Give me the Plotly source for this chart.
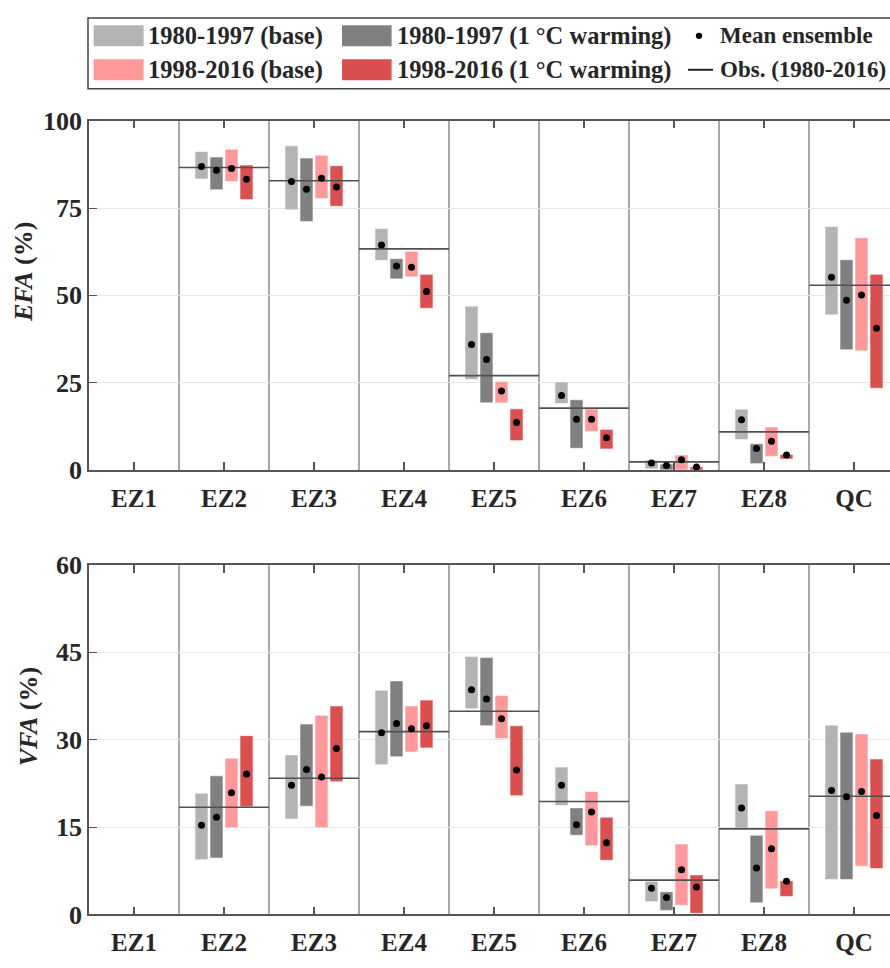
import plotly.graph_objects as go

# ---------------------------------------------------------------- data
zones = ["EZ1", "EZ2", "EZ3", "EZ4", "EZ5", "EZ6", "EZ7", "EZ8", "QC"]

series_names = ["1980-1997 (base)", "1980-1997 (1 °C warming)",
                "1998-2016 (base)", "1998-2016 (1 °C warming)"]
series_colors = ["#b3b3b3", "#808080", "#ff9999", "#dc4f4f"]

efa_ticks = [0, 25, 50, 75, 100]
vfa_ticks = [0, 15, 30, 45, 60]

# EFA (%) : ensemble range (low / high) and ensemble mean per zone
efa_p1_base_lo = [None, 83.3, 74.5, 60.0, 25.9, 19.0, 0.3, 8.7, 44.4]
efa_p1_base_hi = [None, 91.2, 92.8, 69.1, 46.9, 25.2, 2.8, 17.4, 69.7]
efa_p1_base_mean = [None, 86.9, 82.6, 64.4, 35.9, 21.3, 2.0, 14.4, 55.2]

efa_p1_warm_lo = [None, 80.2, 71.1, 54.7, 19.2, 6.2, 0.0, 1.8, 34.4]
efa_p1_warm_hi = [None, 89.6, 89.3, 60.5, 39.3, 20.1, 1.7, 7.5, 60.2]
efa_p1_warm_mean = [None, 85.8, 80.4, 58.4, 31.6, 14.5, 1.3, 6.1, 48.6]

efa_p2_base_lo = [None, 82.6, 77.7, 55.3, 19.2, 11.0, 0.0, 3.9, 34.1]
efa_p2_base_hi = [None, 91.8, 90.1, 62.6, 25.3, 17.5, 4.3, 12.3, 66.5]
efa_p2_base_mean = [None, 86.3, 83.5, 58.0, 22.6, 14.5, 2.9, 8.2, 50.1]

efa_p2_warm_lo = [None, 77.4, 75.5, 46.3, 8.4, 6.0, 0.0, 3.1, 23.4]
efa_p2_warm_hi = [None, 87.3, 87.1, 56.0, 17.5, 11.6, 0.9, 4.4, 56.0]
efa_p2_warm_mean = [None, 83.2, 81.0, 51.1, 13.6, 9.2, 0.8, 4.3, 40.6]

efa_obs = [None, 86.6, 82.8, 63.3, 27.0, 17.7, 2.3, 10.9, 52.9]

# VFA (%)
vfa_p1_base_lo = [None, 9.4, 16.4, 25.7, 35.3, 18.7, 2.2, 14.8, 6.0]
vfa_p1_base_hi = [None, 20.8, 27.4, 38.5, 44.3, 25.3, 5.7, 22.4, 32.5]
vfa_p1_base_mean = [None, 15.3, 22.2, 31.2, 38.6, 22.2, 4.5, 18.3, 21.3]

vfa_p1_warm_lo = [None, 9.7, 18.6, 27.1, 32.4, 13.6, 0.7, 2.0, 6.0]
vfa_p1_warm_hi = [None, 23.8, 32.7, 40.1, 44.1, 18.3, 3.9, 13.6, 31.3]
vfa_p1_warm_mean = [None, 16.7, 24.9, 32.8, 37.0, 15.4, 2.9, 8.0, 20.2]

vfa_p2_base_lo = [None, 14.9, 14.9, 27.9, 30.2, 11.8, 1.6, 4.4, 8.3]
vfa_p2_base_hi = [None, 26.8, 34.2, 35.8, 37.6, 21.1, 12.1, 17.8, 31.0]
vfa_p2_base_mean = [None, 20.9, 23.6, 31.9, 33.6, 17.6, 7.7, 11.3, 21.1]

vfa_p2_warm_lo = [None, 18.5, 22.8, 28.6, 20.4, 9.3, 0.2, 3.1, 7.9]
vfa_p2_warm_hi = [None, 30.7, 35.8, 36.8, 32.4, 16.7, 6.8, 5.8, 26.7]
vfa_p2_warm_mean = [None, 24.1, 28.5, 32.4, 24.8, 12.3, 4.7, 5.7, 17.0]

vfa_obs = [None, 18.4, 23.4, 31.4, 34.9, 19.4, 5.9, 14.7, 20.3]

# ---------------------------------------------------------------- style
FONT = "Liberation Serif, 'Times New Roman', Times, serif"
TXT = "#262626"
W, H = 890, 968
ML = 89
BAR_OFFSETS = [-0.25, -0.0833, 0.0833, 0.25]
BAR_WIDTH = 0.144

fig = go.Figure()

panels = [
    ("x", "y",
     [(efa_p1_base_lo, efa_p1_base_hi, efa_p1_base_mean),
      (efa_p1_warm_lo, efa_p1_warm_hi, efa_p1_warm_mean),
      (efa_p2_base_lo, efa_p2_base_hi, efa_p2_base_mean),
      (efa_p2_warm_lo, efa_p2_warm_hi, efa_p2_warm_mean)],
     efa_obs),
    ("x2", "y2",
     [(vfa_p1_base_lo, vfa_p1_base_hi, vfa_p1_base_mean),
      (vfa_p1_warm_lo, vfa_p1_warm_hi, vfa_p1_warm_mean),
      (vfa_p2_base_lo, vfa_p2_base_hi, vfa_p2_base_mean),
      (vfa_p2_warm_lo, vfa_p2_warm_hi, vfa_p2_warm_mean)],
     vfa_obs),
]

zone_pos = list(range(len(zones)))

for xa, ya, series, obs in panels:
    # ensemble ranges as floating bars
    for s, (lo, hi, _) in enumerate(series):
        xs = [i + BAR_OFFSETS[s] for i in zone_pos]
        heights = [None if a is None else b - a for a, b in zip(lo, hi)]
        fig.add_trace(go.Bar(
            x=xs, y=heights, base=lo, width=BAR_WIDTH,
            marker=dict(color=series_colors[s],
                        line=dict(color="rgba(255,255,255,0.55)", width=1)),
            name=series_names[s], showlegend=False,
            xaxis=xa, yaxis=ya))
    # observed value, one segment per zone
    ox, oy = [], []
    for i, v in zip(zone_pos, obs):
        if v is None:
            continue
        ox += [i - 0.5, i + 0.5, None]
        oy += [v, v, None]
    fig.add_trace(go.Scatter(
        x=ox, y=oy, mode="lines", line=dict(color="#505050", width=1.6),
        showlegend=False, xaxis=xa, yaxis=ya))
    # ensemble means
    for s, (_, _, mean) in enumerate(series):
        xs = [i + BAR_OFFSETS[s] for i in zone_pos]
        fig.add_trace(go.Scatter(
            x=xs, y=mean, mode="markers",
            marker=dict(color="black", size=7),
            showlegend=False, xaxis=xa, yaxis=ya))


def px_x(px):
    return (px - ML) / (W - ML)


def px_y(py):
    return (H - py) / H


xaxis_common = dict(
    range=[-0.5, 8.4], tickmode="array", tickvals=zone_pos,
    ticktext=[f"<b>{z}</b>" for z in zones],
    ticks="inside", ticklen=8, tickwidth=1.5, tickcolor="#555555",
    showline=True, linecolor="#555555", linewidth=1.5, mirror="ticks",
    showgrid=False, zeroline=False,
    tickfont=dict(family=FONT, size=25, color=TXT),
    minor=dict(tickmode="array", tickvals=[i + 0.5 for i in zone_pos],
               showgrid=True, gridcolor="#a8a8a8", gridwidth=1.6, ticks=""),
    domain=[0, 1],
)
yaxis_common = dict(
    ticks="inside", ticklen=8, tickwidth=1.2, tickcolor="#555555",
    showline=True, linecolor="#555555", linewidth=1.5,
    showgrid=True, gridcolor="#e6e6e6", gridwidth=1.3, zeroline=False,
    tickfont=dict(family=FONT, size=26, color=TXT),
    tickmode="array",
)

fig.update_layout(
    width=W, height=H,
    margin=dict(l=ML, r=0, t=0, b=0),
    paper_bgcolor="white", plot_bgcolor="white",
    barmode="overlay",
    showlegend=False,
    font=dict(family=FONT, color=TXT),
    xaxis=dict(xaxis_common, anchor="y", ticklabelstandoff=5),
    xaxis2=dict(xaxis_common, anchor="y2", ticklabelstandoff=5),
    yaxis=dict(yaxis_common, range=[0, 100], tickvals=efa_ticks,
               ticktext=[f"<b>{t}</b>" for t in efa_ticks],
               domain=[px_y(470), px_y(110)], anchor="x"),
    yaxis2=dict(yaxis_common, range=[0, 60], tickvals=vfa_ticks,
                ticktext=[f"<b>{t}</b>" for t in vfa_ticks],
                domain=[px_y(928.3), px_y(568)], anchor="x2"),
)

# axis titles
for text, cx, cy in [("<b><i>EFA</i> (%)</b>", 23, 266),
                     ("<b><i>VFA</i> (%)</b>", 28, 724)]:
    fig.add_annotation(
        text=text, xref="paper", yref="paper", x=px_x(cx), y=px_y(cy),
        xanchor="center", yanchor="middle", textangle=-90, showarrow=False,
        font=dict(family=FONT, size=26, color=TXT))

# legend box
shapes = [dict(type="rect", xref="paper", yref="paper",
               x0=px_x(88), x1=px_x(900), y0=px_y(77), y1=px_y(4),
               line=dict(color="#444444", width=1.5), fillcolor="white")]
legend_rows = [22.5, 57.5]
swatch_cols = [(93.6, 143.6), (342, 391.6)]
text_cols = [146, 395]
for s in range(4):
    row = 0 if s in (0, 1) else 1
    col = s % 2
    cy = legend_rows[row]
    x0, x1 = swatch_cols[col]
    shapes.append(dict(type="rect", xref="paper", yref="paper",
                       x0=px_x(x0), x1=px_x(x1),
                       y0=px_y(cy + 10.8), y1=px_y(cy - 10.8),
                       line=dict(width=0), fillcolor=series_colors[s]))
    fig.add_annotation(text=f"<b>{series_names[s]}</b>", xref="paper",
                       yref="paper", x=px_x(text_cols[col]), y=px_y(cy),
                       xanchor="left", yanchor="middle", showarrow=False,
                       font=dict(family=FONT, size=24.5, color=TXT))
# mean marker + label
shapes.append(dict(type="circle", xref="paper", yref="paper",
                   x0=px_x(695.8), x1=px_x(702.2), y0=px_y(25.7),
                   y1=px_y(19.3), line=dict(width=0), fillcolor="black"))
fig.add_annotation(text="<b>Mean ensemble</b>", xref="paper", yref="paper",
                   x=px_x(718), y=px_y(22.5), xanchor="left",
                   yanchor="middle", showarrow=False,
                   font=dict(family=FONT, size=23, color=TXT))
# observation line + label
shapes.append(dict(type="line", xref="paper", yref="paper",
                   x0=px_x(688), x1=px_x(713), y0=px_y(57.5), y1=px_y(57.5),
                   line=dict(color="#222222", width=2)))
fig.add_annotation(text="<b>Obs. (1980-2016)</b>", xref="paper", yref="paper",
                   x=px_x(718), y=px_y(57.5), xanchor="left",
                   yanchor="middle", showarrow=False,
                   font=dict(family=FONT, size=23, color=TXT))

fig.update_layout(shapes=shapes)

fig.write_html("out.html")
